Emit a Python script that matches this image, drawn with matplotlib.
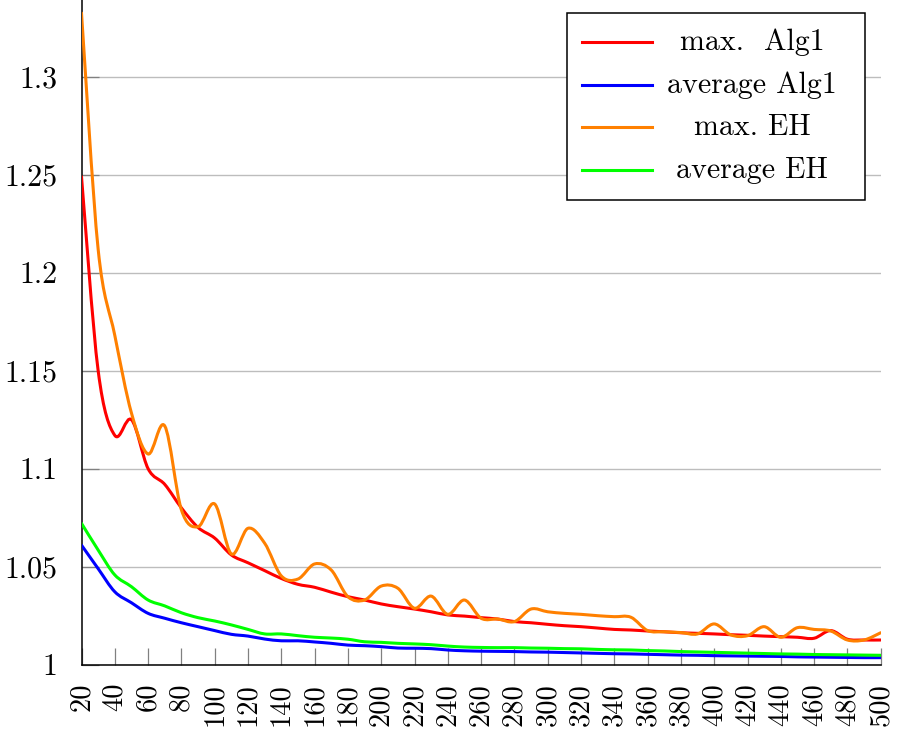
import matplotlib
matplotlib.use("Agg")
import matplotlib.pyplot as plt
from matplotlib.path import Path
from matplotlib.patches import PathPatch, Rectangle
from matplotlib.lines import Line2D
import numpy as np

plt.rcParams['font.family'] = ['cmr10', 'DejaVu Serif']
plt.rcParams['mathtext.fontset'] = 'cm'
plt.rcParams['axes.formatter.use_mathtext'] = True

x_values = list(range(20, 501, 10))

max_alg1 = [1.249, 1.150, 1.117, 1.125, 1.100, 1.092, 1.080, 1.070, 1.0646, 1.056,
            1.052, 1.048, 1.044, 1.041, 1.0395, 1.037, 1.0347, 1.033, 1.031, 1.0296,
            1.0284, 1.027, 1.0254, 1.0248, 1.024, 1.0233, 1.022, 1.0214, 1.0206, 1.0199,
            1.0194, 1.0187, 1.018, 1.0177, 1.0172, 1.0168, 1.0163, 1.016, 1.0157, 1.0153,
            1.015, 1.0146, 1.0143, 1.014, 1.0135, 1.0174, 1.013, 1.0126, 1.0126]

avg_alg1 = [1.061, 1.049, 1.0372, 1.0316, 1.0262, 1.0237, 1.0214, 1.0194, 1.0174, 1.0155,
            1.0146, 1.0131, 1.0122, 1.0122, 1.0116, 1.0109, 1.0100, 1.0097, 1.0092, 1.0085,
            1.0084, 1.0082, 1.0075, 1.0071, 1.0069, 1.0068, 1.0067, 1.0065, 1.0064, 1.0062,
            1.0060, 1.0058, 1.0056, 1.0055, 1.0053, 1.0051, 1.0049, 1.0048, 1.0046, 1.0045,
            1.0044, 1.0043, 1.0042, 1.0040, 1.0039, 1.0038, 1.0037, 1.0036, 1.0036]

max_eh = [1.3325, 1.212, 1.168, 1.1284, 1.1075, 1.1218, 1.079, 1.0704, 1.082, 1.0565,
          1.0696, 1.062, 1.0453, 1.0437, 1.0514, 1.0483, 1.0347, 1.033, 1.0401, 1.039,
          1.0288, 1.035, 1.0257, 1.033, 1.0237, 1.0233, 1.022, 1.0284, 1.027, 1.0262,
          1.0257, 1.025, 1.0245, 1.0242, 1.0174, 1.0168, 1.0164, 1.0157, 1.0208, 1.0152,
          1.0148, 1.0194, 1.014, 1.0189, 1.018, 1.0172, 1.0126, 1.0126, 1.0163]

avg_eh = [1.0721, 1.0585, 1.0458, 1.0398, 1.033, 1.030, 1.0265, 1.024, 1.0223, 1.0203,
          1.018, 1.0157, 1.0157, 1.0148, 1.014, 1.0136, 1.013, 1.0117, 1.0114, 1.0109,
          1.0106, 1.0102, 1.0095, 1.009, 1.0088, 1.0087, 1.0087, 1.0085, 1.0084, 1.0082,
          1.0081, 1.0078, 1.0076, 1.0075, 1.0072, 1.007, 1.0067, 1.0065, 1.0063, 1.0061,
          1.0059, 1.0057, 1.0055, 1.0054, 1.0052, 1.0051, 1.005, 1.0049, 1.0048]

series_labels = ["max.  Alg1", "average Alg1", "max. EH", "average EH"]
series_colors = ["#ff0000", "#0000ff", "#ff8000", "#00ff00"]
series_data = [max_alg1, avg_alg1, max_eh, avg_eh]

x_ticks = list(range(20, 501, 20))
y_ticks = [1.0, 1.05, 1.1, 1.15, 1.2, 1.25, 1.3]
y_tick_labels = ["1", "1.05", "1.1", "1.15", "1.2", "1.25", "1.3"]

W, H = 898, 737
fig = plt.figure(figsize=(W / 100, H / 100), dpi=100)
ax_l, ax_r, ax_b, ax_t = 81.5, 880.7, 664.7, 0.0
ax = fig.add_axes([ax_l / W, (H - ax_b) / H, (ax_r - ax_l) / W, (ax_b - ax_t) / H])


def smooth_path(xs, ys, k=1.0 / 6.0):
    """Smooth (pgfplots-like) Bezier path through the data points."""
    xs = np.asarray(xs, float)
    ys = np.asarray(ys, float)
    n = len(xs)
    verts = [(xs[0], ys[0])]
    codes = [Path.MOVETO]
    for i in range(n - 1):
        i0 = max(i - 1, 0)
        i3 = min(i + 2, n - 1)
        c1 = (xs[i] + k * (xs[i + 1] - xs[i0]), ys[i] + k * (ys[i + 1] - ys[i0]))
        c2 = (xs[i + 1] - k * (xs[i3] - xs[i]), ys[i + 1] - k * (ys[i3] - ys[i]))
        verts += [c1, c2, (xs[i + 1], ys[i + 1])]
        codes += [Path.CURVE4] * 3
    return Path(verts, codes)


for data, color in zip(series_data, series_colors):
    p = smooth_path(x_values, data)
    ax.add_patch(PathPatch(p, facecolor="none", edgecolor=color, lw=2.2,
                           capstyle="round", joinstyle="round", zorder=3))

ax.set_xlim(20, 500)
ax.set_ylim(1.0, 1.0 + 664.7 / 1960.0)

ax.set_xticks(x_ticks)
ax.set_xticklabels([str(v) for v in x_ticks], rotation=90, fontsize=20.5)
ax.set_yticks(y_ticks)
ax.set_yticklabels(y_tick_labels, fontsize=21.5)
ax.tick_params(axis="both", direction="in", length=12, width=0.9, color="#808080")
ax.tick_params(axis="y", pad=17.5)
ax.tick_params(axis="x", pad=13)

ax.yaxis.grid(True, color="#bdbdbd", lw=1.0)
ax.set_axisbelow(True)
for s in ["top", "right"]:
    ax.spines[s].set_visible(False)
for s in ["left", "bottom"]:
    ax.spines[s].set_color("black")
    ax.spines[s].set_linewidth(1.1)


def ax_xy(px, py):
    return ((px - ax_l) / (ax_r - ax_l), (ax_b - py) / (ax_b - ax_t))


# legend box (pgfplots style: centered entries)
lx0, ly0 = ax_xy(567, 200)
lx1, ly1 = ax_xy(865, 13)
ax.add_patch(Rectangle((lx0, ly0), lx1 - lx0, ly1 - ly0, transform=ax.transAxes,
                       facecolor="white", edgecolor="black", lw=1.1, zorder=5,
                       clip_on=False))
rows_py = [42.3, 85.0, 127.3, 170.0]
for label, color, py in zip(series_labels, series_colors, rows_py):
    hx0, hy = ax_xy(582, py)
    hx1, _ = ax_xy(652, py)
    ax.add_line(Line2D([hx0, hx1], [hy, hy], transform=ax.transAxes, color=color,
                       lw=2.2, zorder=6, clip_on=False))
    tx, ty = ax_xy(752, py + 8)
    ax.text(tx, ty, label, transform=ax.transAxes, ha="center", va="baseline",
            fontsize=21.5, zorder=6)

fig.savefig("out.png", dpi=100)
